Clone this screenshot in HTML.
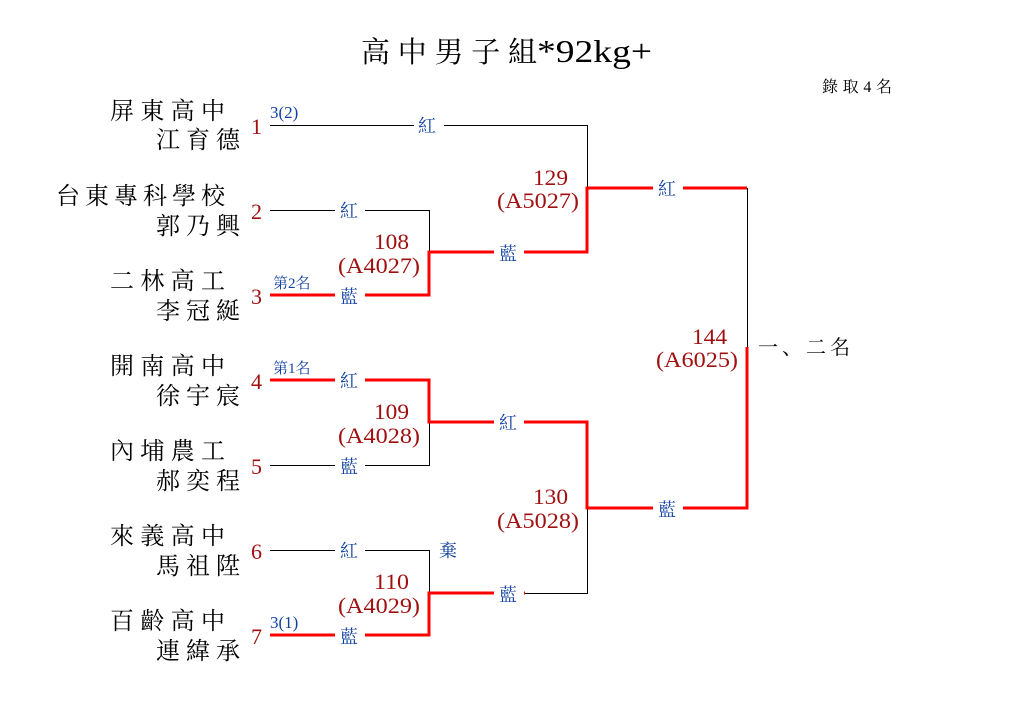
<!DOCTYPE html>
<html><head><meta charset="utf-8"><style>
html,body{margin:0;padding:0;background:#fff;}
svg{display:block;}
text{font-family:"Liberation Serif","Noto Serif CJK SC","Noto Sans CJK TC",serif;}
.nm{font-size:24px;fill:#000;}
.num{font-size:22px;fill:#a01010;}
.lb{font-size:18px;fill:#1040a0;}
.mt{font-size:22px;fill:#a01010;}
</style></head><body>
<svg width="1010" height="720" viewBox="0 0 1010 720" xmlns="http://www.w3.org/2000/svg">
<rect width="1010" height="720" fill="#fff"/>
<text x="361" y="62" font-size="29" textLength="176" lengthAdjust="spacing">高中男子組</text>
<text x="537" y="62" font-size="32" textLength="115" lengthAdjust="spacingAndGlyphs">*92kg+</text>
<text x="822" y="92" font-size="16" textLength="70" lengthAdjust="spacing">錄取4名</text>

<text class="nm" x="110" y="119" textLength="115" lengthAdjust="spacing">屏東高中</text>
<text class="nm" x="156" y="148" textLength="84" lengthAdjust="spacing">江育德</text>
<text class="nm" x="56" y="204" textLength="169" lengthAdjust="spacing">台東專科學校</text>
<text class="nm" x="156" y="234" textLength="84" lengthAdjust="spacing">郭乃興</text>
<text class="nm" x="110" y="289" textLength="115" lengthAdjust="spacing">二林高工</text>
<text class="nm" x="156" y="319" textLength="84" lengthAdjust="spacing">李冠綖</text>
<text class="nm" x="110" y="374" textLength="115" lengthAdjust="spacing">開南高中</text>
<text class="nm" x="156" y="404" textLength="84" lengthAdjust="spacing">徐宇宸</text>
<text class="nm" x="110" y="459" textLength="115" lengthAdjust="spacing">內埔農工</text>
<text class="nm" x="156" y="489" textLength="84" lengthAdjust="spacing">郝奕程</text>
<text class="nm" x="110" y="544" textLength="115" lengthAdjust="spacing">來義高中</text>
<text class="nm" x="156" y="574" textLength="84" lengthAdjust="spacing">馬祖陞</text>
<text class="nm" x="110" y="629" textLength="115" lengthAdjust="spacing">百齡高中</text>
<text class="nm" x="156" y="659" textLength="84" lengthAdjust="spacing">連緯承</text>

<text class="num" x="251" y="134">1</text>
<text class="num" x="251" y="219">2</text>
<text class="num" x="251" y="304">3</text>
<text class="num" x="251" y="389">4</text>
<text class="num" x="251" y="474">5</text>
<text class="num" x="251" y="559">6</text>
<text class="num" x="251" y="644">7</text>

<g stroke="#000" stroke-width="1" fill="none">
<path d="M270 125.5H587.5V188"/>
<path d="M270 210.5H429.5V252"/>
<path d="M270 465.5H429.5V422"/>
<path d="M270 550.5H429.5V593"/>
<path d="M587.5 508V593.5H525"/>
<path d="M747.5 188V347"/>
</g>
<g stroke="#ff0000" stroke-width="3" fill="none">
<path d="M270 295H429V252H587V188H747"/>
<path d="M270 380H429V422H587V508H747V347"/>
<path d="M270 635H429V593H525"/>
</g>

<g class="lb">
<text x="270" y="118" font-size="17">3(2)</text>
<text x="273" y="288" font-size="15">第2名</text>
<text x="273" y="373" font-size="15">第1名</text>
<text x="270" y="628" font-size="17">3(1)</text>
</g>

<g>
<rect x="414" y="115" width="30" height="20" fill="#fff"/><text class="lb" x="418" y="132">紅</text>
<rect x="335" y="200" width="30" height="20" fill="#fff"/><text class="lb" x="340" y="217">紅</text>
<rect x="335" y="285" width="30" height="20" fill="#fff"/><text class="lb" x="340" y="303">藍</text>
<rect x="335" y="370" width="30" height="20" fill="#fff"/><text class="lb" x="340" y="387">紅</text>
<rect x="335" y="455" width="30" height="20" fill="#fff"/><text class="lb" x="340" y="473">藍</text>
<rect x="335" y="540" width="30" height="20" fill="#fff"/><text class="lb" x="340" y="557">紅</text>
<rect x="335" y="625" width="30" height="20" fill="#fff"/><text class="lb" x="340" y="643">藍</text>
<rect x="494" y="242" width="30" height="20" fill="#fff"/><text class="lb" x="499" y="260">藍</text>
<rect x="494" y="412" width="30" height="20" fill="#fff"/><text class="lb" x="499" y="429">紅</text>
<rect x="494" y="583" width="30" height="20" fill="#fff"/><text class="lb" x="499" y="601">藍</text>
<rect x="653" y="178" width="30" height="20" fill="#fff"/><text class="lb" x="658" y="195">紅</text>
<rect x="653" y="498" width="30" height="20" fill="#fff"/><text class="lb" x="658" y="516">藍</text>
<text class="lb" x="439" y="557">棄</text>
</g>

<g class="mt">
<text x="374" y="249" textLength="35" lengthAdjust="spacingAndGlyphs">108</text><text x="338" y="273" textLength="82" lengthAdjust="spacingAndGlyphs">(A4027)</text>
<text x="374" y="419" textLength="35" lengthAdjust="spacingAndGlyphs">109</text><text x="338" y="443" textLength="82" lengthAdjust="spacingAndGlyphs">(A4028)</text>
<text x="374" y="589" textLength="35" lengthAdjust="spacingAndGlyphs">110</text><text x="338" y="613" textLength="82" lengthAdjust="spacingAndGlyphs">(A4029)</text>
<text x="533" y="185" textLength="35" lengthAdjust="spacingAndGlyphs">129</text><text x="497" y="208" textLength="82" lengthAdjust="spacingAndGlyphs">(A5027)</text>
<text x="533" y="504" textLength="35" lengthAdjust="spacingAndGlyphs">130</text><text x="497" y="528" textLength="82" lengthAdjust="spacingAndGlyphs">(A5028)</text>
<text x="692" y="344" textLength="35" lengthAdjust="spacingAndGlyphs">144</text><text x="656" y="367" textLength="82" lengthAdjust="spacingAndGlyphs">(A6025)</text>
</g>
<text x="758" y="354" font-size="20" fill="#000" textLength="92" lengthAdjust="spacing">一、二名</text>
</svg>
</body></html>
